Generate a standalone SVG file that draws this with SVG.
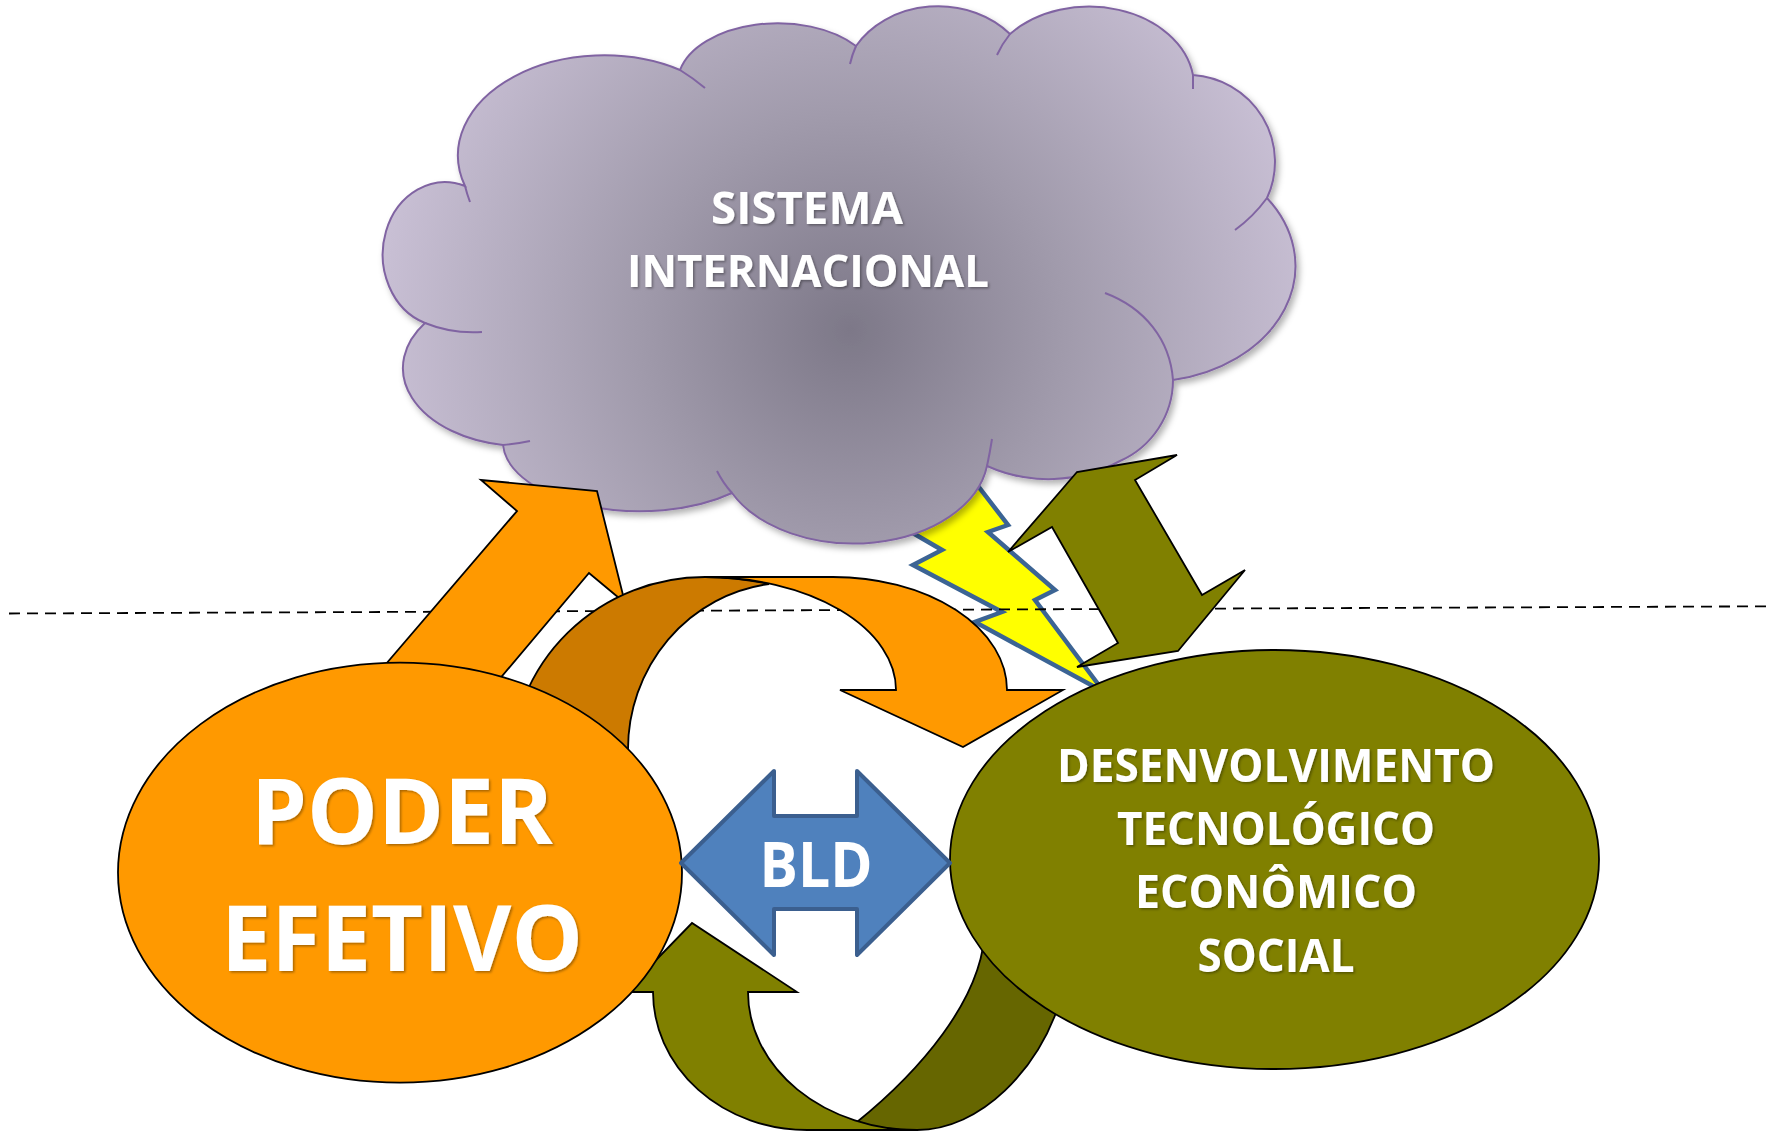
<svg xmlns="http://www.w3.org/2000/svg" width="1773" height="1132" viewBox="0 0 1773 1132">
<defs>
<radialGradient id="cloudGrad" gradientUnits="userSpaceOnUse" cx="850" cy="330" r="470">
<stop offset="0" stop-color="#7d7888"/>
<stop offset="0.45" stop-color="#a09aab"/>
<stop offset="1" stop-color="#c8bfd4"/>
</radialGradient>
<filter id="shadow" x="-10%" y="-10%" width="125%" height="125%">
<feDropShadow dx="3" dy="4" stdDeviation="3" flood-color="#000" flood-opacity="0.3"/>
</filter>
<filter id="tshadow" x="-10%" y="-20%" width="125%" height="150%">
<feDropShadow dx="1.5" dy="1.5" stdDeviation="1" flood-color="#000" flood-opacity="0.35"/>
</filter>
</defs>
<style>
.shape{stroke:#000;stroke-width:1.8;stroke-linejoin:miter}
.orange{fill:#ff9900}
.dorange{fill:#cc7a00}
.olive{fill:#808000}
.dolive{fill:#666600}
.lbl{font-family:"Open Sans","Liberation Sans",sans-serif;font-weight:bold;fill:#fff;text-anchor:middle}
.tail{fill:none;stroke:#8064a2;stroke-width:2}
</style>

<g id="lightning">
<polygon points="955,456 1008,525 988,532 1055,590 1035,600 1104,692 975,622 1002,612 913,565 942,550 880,514" fill="#ffff00" stroke="#3c6494" stroke-width="4.5" stroke-linejoin="miter"/>
</g>

<g id="divider">
<line x1="9" y1="613.5" x2="1773" y2="606.3" stroke="#000" stroke-width="1.8" stroke-dasharray="11,7"/>
</g>

<g id="sistema-internacional">
<path d="M 425 323 A 62 72 0 0 1 465 186 A 146 100 0 0 1 680 70 A 100 60 0 0 1 856 46 A 95 80 0 0 1 1010 34 A 105 80 0 0 1 1193 75 A 88 87 0 0 1 1267 198 A 150 116 0 0 1 1173 380 A 90 89 0 0 1 1120 461 A 150 150 0 0 1 987 466 A 135 90 0 0 1 732 493 A 137 70 0 0 1 503 445 A 120 78 0 0 1 425 323 Z" fill="url(#cloudGrad)" stroke="#8064a2" stroke-width="2" filter="url(#shadow)"/>
<path class="tail" d="M 425 323 Q 452 334 482 332 M 465 186 Q 467 194 470 202 M 680 70 Q 693 78 705 88 M 856 46 Q 852 55 850 64 M 1010 34 Q 1002 44 997 55 M 1193 75 L 1193 89 M 1267 198 Q 1253 217 1235 230 M 1173 380 C 1170 340 1145 308 1105 293 M 987 466 Q 990 452 992 439 M 732 493 Q 723 483 717 471 M 503 445 Q 516 444 530 441"/>
<text class="lbl" x="807" y="224" font-size="44" textLength="192" lengthAdjust="spacingAndGlyphs" filter="url(#tshadow)">SISTEMA</text>
<text class="lbl" x="808" y="287" font-size="44" textLength="362" lengthAdjust="spacingAndGlyphs" filter="url(#tshadow)">INTERNACIONAL</text>
</g>

<g id="connectors">
<polygon class="shape orange" points="338,720 517,511 481,480 597,491 625,603 589,573 465,720"/>
<path class="shape dorange" d="M 511 767 A 194 190 0 0 1 705 577 A 191 113 0 0 1 769 584 A 162 167 0 0 0 628 750 L 600 790 L 530 790 Z"/>
<path class="shape orange" d="M 705 577 L 833 577 A 174 113 0 0 1 1007 690 L 1063 690 L 963 747 L 840 690 L 896 690 A 191 113 0 0 0 705 577 Z"/>
<polygon class="shape olive" points="1008,552 1077,472 1177,455 1135,480 1202,595 1245,570 1178,651 1077,667 1118,643 1052,527"/>
<path class="shape dolive" d="M 857 1122 C 915 1075 985 1000 985 925 L 1075 925 L 1062 995 C 1040 1070 980 1130 917 1130 A 169 138 0 0 1 857 1122 Z"/>
<path class="shape olive" d="M 625 992 L 692 923 L 797 992 L 748 992 A 169 138 0 0 0 917 1130 L 807 1130 A 154 138 0 0 1 653 992 Z"/>
</g>

<g id="poder-efetivo">
<ellipse class="shape orange" cx="400" cy="872.6" rx="282" ry="210"/>
<text class="lbl" x="402" y="844" font-size="92" textLength="302" lengthAdjust="spacingAndGlyphs" filter="url(#tshadow)">PODER</text>
<text class="lbl" x="402" y="971" font-size="92" textLength="362" lengthAdjust="spacingAndGlyphs" filter="url(#tshadow)">EFETIVO</text>
</g>

<g id="desenvolvimento">
<ellipse class="shape olive" cx="1274.5" cy="859.5" rx="324.5" ry="209.5"/>
<text class="lbl" x="1276" y="782" font-size="46" textLength="438" lengthAdjust="spacingAndGlyphs" filter="url(#tshadow)">DESENVOLVIMENTO</text>
<text class="lbl" x="1276" y="845" font-size="46" textLength="318" lengthAdjust="spacingAndGlyphs" filter="url(#tshadow)">TECNOLÓGICO</text>
<text class="lbl" x="1276" y="908" font-size="46" textLength="282" lengthAdjust="spacingAndGlyphs" filter="url(#tshadow)">ECONÔMICO</text>
<text class="lbl" x="1276" y="972" font-size="46" textLength="157" lengthAdjust="spacingAndGlyphs" filter="url(#tshadow)">SOCIAL</text>
</g>

<g id="bld">
<polygon points="681,863 774,771 774,816 857,816 857,771 950,863 857,955 857,909 774,909 774,955" fill="#4f81bd" stroke="#3b5f8f" stroke-width="4" stroke-linejoin="round"/>
<text class="lbl" x="816" y="887" font-size="63" textLength="113" lengthAdjust="spacingAndGlyphs">BLD</text>
</g>
</svg>
